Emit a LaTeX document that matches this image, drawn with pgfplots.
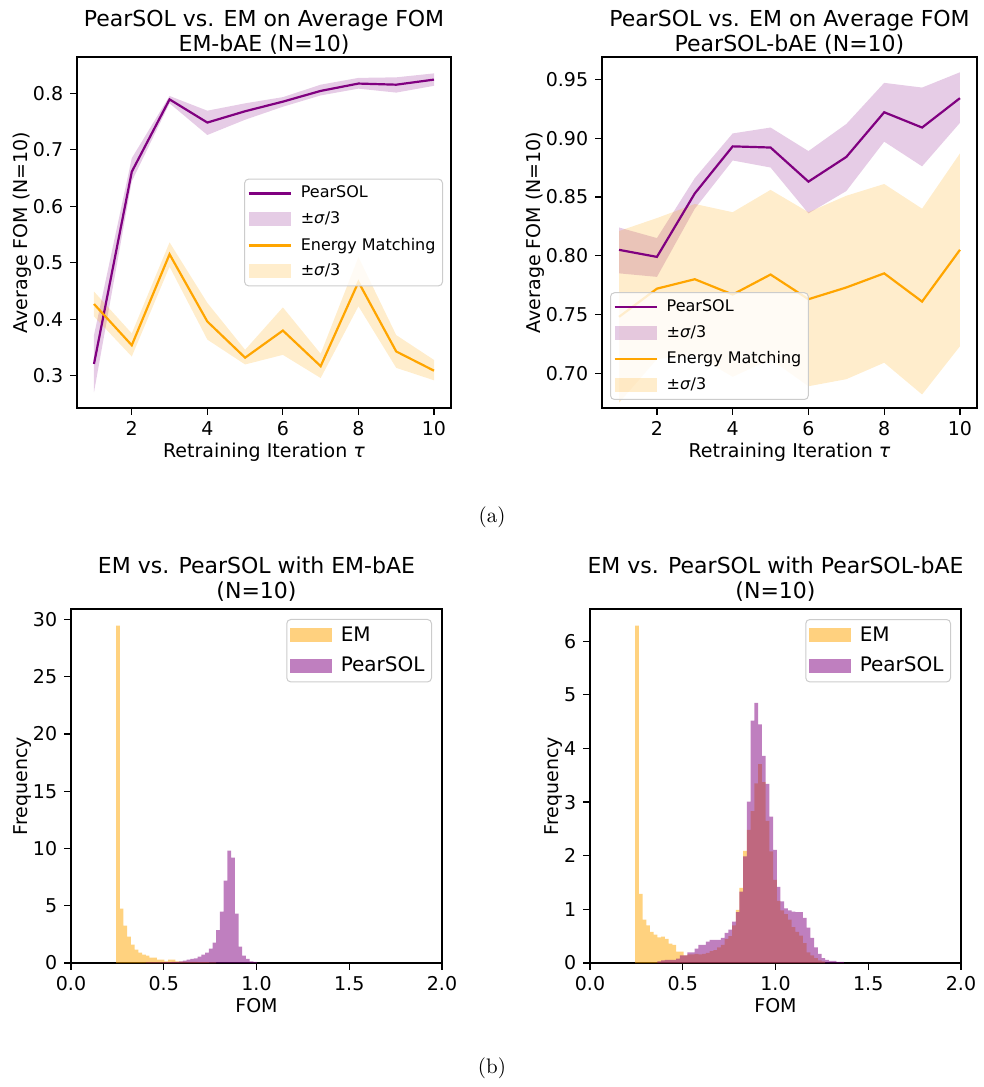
\documentclass[border=0pt]{standalone}
\usepackage{fontspec}
\usepackage{pgfplots}
\pgfplotsset{compat=1.18}
\newfontfamily\dejavu{DejaVu Sans}
\definecolor{mplpurple}{RGB}{128,0,128}
\definecolor{mplorange}{RGB}{255,165,0}
\definecolor{legedge}{RGB}{204,204,204}

\pgfplotsset{
  mplline/.style={legend image code/.code={\draw[##1, sharp corners] (0pt,0pt) -- (2.1em,0pt);}},
  mplpatch/.style={legend image code/.code={\fill[##1, draw=none, sharp corners] (0pt,-0.35em) rectangle (2.1em,0.35em);}},
  mplbase/.style={
    scale only axis,
    axis line style={line width=0.6pt},
    tick align=outside,
    tick pos=left,
    major tick length=3.4pt,
    every tick/.style={black, line width=0.6pt},
    /pgf/number format/assume math mode=true,
    tick label style={font=\dejavu\fontsize{9.5}{11}\selectfont},
    label style={font=\dejavu\fontsize{9.5}{11}\selectfont},
    xlabel style={yshift=3.5pt},
    ylabel style={yshift=-6pt},
    title style={font=\dejavu\fontsize{11}{12.5}\selectfont, align=center},
    legend cell align=left,
    legend style={draw=legedge, line width=0.5pt, rounded corners=2pt, fill=white,
      fill opacity=0.8, draw opacity=1, text opacity=1,
      row sep=0.15em, column sep=0.25em, inner xsep=1.5pt, inner ysep=1.5pt,
      nodes={inner sep=2pt}},
  },
  lineaxis/.style={mplbase, xmin=0.55, xmax=10.45, xtick={2,4,6,8,10},
    xlabel={Retraining Iteration \textit{τ}}, ylabel={Average FOM (N=10)},
    title style={yshift=-8pt},
    legend style={font=\dejavu\fontsize{8}{9.6}\selectfont}},
  histaxis/.style={mplbase, xmin=0, xmax=2, ymin=0, xtick={0,0.5,1,1.5,2},
    xticklabel style={/pgf/number format/.cd, fixed, fixed zerofill, precision=1},
    xlabel={FOM}, ylabel={Frequency},
    title style={yshift=-5.5pt},
    legend style={font=\dejavu\fontsize{10}{12}\selectfont, at={(1,1)}, anchor=north east,
      xshift=-5pt, yshift=-5pt, row sep=0.25em}},
}

\begin{document}
\begin{tikzpicture}
\path[use as bounding box] (0,0) rectangle (492pt,543.5pt);

% (a) left: EM-bAE
\begin{axis}[lineaxis, at={(38.5pt,339.5pt)}, anchor=south west,
  width=187pt, height=175.5pt, ymin=0.243, ymax=0.864,
  ytick={0.3,0.4,0.5,0.6,0.7,0.8},
  yticklabel style={/pgf/number format/.cd, fixed, fixed zerofill, precision=1},
  title={PearSOL vs. EM on Average FOM\\EM-bAE (N=10)},
  legend style={at={(1,0.5)}, anchor=east, xshift=-4pt}]
\addplot[fill=mplpurple, fill opacity=0.2, draw=none, forget plot] coordinates {
  (1,0.372) (2,0.685) (3,0.795) (4,0.769) (5,0.782) (6,0.793) (7,0.815) (8,0.827) (9,0.828) (10,0.835)
  (10,0.813) (9,0.801) (8,0.808) (7,0.796) (6,0.776) (5,0.753) (4,0.726) (3,0.782) (2,0.644) (1,0.271)
} -- cycle;
\addplot[fill=mplorange, fill opacity=0.2, draw=none, forget plot] coordinates {
  (1,0.449) (2,0.375) (3,0.536) (4,0.429) (5,0.346) (6,0.421) (7,0.339) (8,0.510) (9,0.372) (10,0.328)
  (10,0.292) (9,0.314) (8,0.423) (7,0.296) (6,0.337) (5,0.320) (4,0.364) (3,0.493) (2,0.334) (1,0.405)
} -- cycle;
\addplot[mplpurple, line width=1.1pt, mplline] coordinates {
  (1,0.321) (2,0.661) (3,0.789) (4,0.748) (5,0.768) (6,0.785) (7,0.804) (8,0.817) (9,0.815) (10,0.824)
};
\addlegendentry{PearSOL}
\addlegendimage{mplpatch, fill=mplpurple, fill opacity=0.2}
\addlegendentry{±\textit{σ}/3}
\addplot[mplorange, line width=1.1pt, mplline] coordinates {
  (1,0.427) (2,0.354) (3,0.515) (4,0.396) (5,0.332) (6,0.380) (7,0.317) (8,0.466) (9,0.343) (10,0.309)
};
\addlegendentry{Energy Matching}
\addlegendimage{mplpatch, fill=mplorange, fill opacity=0.2}
\addlegendentry{±\textit{σ}/3}
\end{axis}

% (a) right: PearSOL-bAE
\begin{axis}[lineaxis, at={(301pt,339.5pt)}, anchor=south west,
  width=187.5pt, height=175.5pt, ymin=0.6705, ymax=0.969,
  ytick={0.70,0.75,0.80,0.85,0.90,0.95},
  yticklabel style={/pgf/number format/.cd, fixed, fixed zerofill, precision=2},
  title={PearSOL vs. EM on Average FOM\\PearSOL-bAE (N=10)},
  legend style={at={(0,0)}, anchor=south west, xshift=4pt, yshift=4pt}]
\addplot[fill=mplpurple, fill opacity=0.2, draw=none, forget plot] coordinates {
  (1,0.824) (2,0.815) (3,0.866) (4,0.904) (5,0.909) (6,0.889) (7,0.912) (8,0.947) (9,0.943) (10,0.956)
  (10,0.913) (9,0.876) (8,0.897) (7,0.855) (6,0.836) (5,0.875) (4,0.881) (3,0.840) (2,0.782) (1,0.785)
} -- cycle;
\addplot[fill=mplorange, fill opacity=0.2, draw=none, forget plot] coordinates {
  (1,0.821) (2,0.832) (3,0.844) (4,0.837) (5,0.856) (6,0.837) (7,0.851) (8,0.861) (9,0.840) (10,0.887)
  (10,0.723) (9,0.682) (8,0.709) (7,0.695) (6,0.689) (5,0.712) (4,0.697) (3,0.716) (2,0.712) (1,0.675)
} -- cycle;
\addplot[mplpurple, line width=1.1pt, mplline] coordinates {
  (1,0.805) (2,0.799) (3,0.853) (4,0.893) (5,0.892) (6,0.863) (7,0.884) (8,0.922) (9,0.909) (10,0.934)
};
\addlegendentry{PearSOL}
\addlegendimage{mplpatch, fill=mplpurple, fill opacity=0.2}
\addlegendentry{±\textit{σ}/3}
\addplot[mplorange, line width=1.1pt, mplline] coordinates {
  (1,0.748) (2,0.772) (3,0.780) (4,0.767) (5,0.784) (6,0.763) (7,0.773) (8,0.785) (9,0.761) (10,0.805)
};
\addlegendentry{Energy Matching}
\addlegendimage{mplpatch, fill=mplorange, fill opacity=0.2}
\addlegendentry{±\textit{σ}/3}
\end{axis}

% (b) left: histogram with EM-bAE
\begin{axis}[histaxis, at={(35.5pt,62pt)}, anchor=south west,
  width=185.5pt, height=177pt, ymax=30.92, ytick={0,5,10,15,20,25,30},
  title={EM vs. PearSOL with EM-bAE\\(N=10)}]
\addplot[ybar interval, fill=mplorange, fill opacity=0.5, draw=none, mplpatch] coordinates {
  (0.243,29.47) (0.263,4.75) (0.283,3.27) (0.303,2.30) (0.323,1.60) (0.343,1.17) (0.363,0.90)
  (0.383,0.73) (0.403,0.64) (0.423,0.47) (0.443,0.47) (0.463,0.29) (0.483,0.29) (0.503,0.15)
  (0.523,0.29) (0.543,0.29) (0.563,0.15) (0.583,0.12) (0.603,0.12) (0.623,0.10) (0.643,0.10)
  (0.663,0.10) (0.683,0.08) (0.703,0.08) (0.723,0.08) (0.743,0.06) (0.763,0.06) (0.783,0)
};
\addlegendentry{EM}
\addplot[ybar interval, fill=mplpurple, fill opacity=0.5, draw=none, mplpatch] coordinates {
  (0.403,0.05) (0.423,0.05) (0.443,0.05) (0.463,0.06) (0.483,0.06) (0.503,0.08) (0.523,0.08)
  (0.543,0.10) (0.563,0.10) (0.583,0.15) (0.603,0.20) (0.623,0.29) (0.643,0.35) (0.663,0.40)
  (0.683,0.55) (0.703,0.73) (0.723,0.90) (0.743,1.25) (0.763,1.78) (0.783,2.88) (0.803,4.48)
  (0.823,7.19) (0.843,9.81) (0.863,9.20) (0.883,4.31) (0.903,1.43) (0.923,0.64) (0.943,0.35)
  (0.963,0.15) (0.983,0.09) (1.003,0)
};
\addlegendentry{PearSOL}
\end{axis}

% (b) right: histogram with PearSOL-bAE
\begin{axis}[histaxis, at={(295pt,62pt)}, anchor=south west,
  width=185.5pt, height=177pt, ymax=6.6, ytick={0,1,2,3,4,5,6},
  title={EM vs. PearSOL with PearSOL-bAE\\(N=10)}]
\addplot[ybar interval, fill=mplorange, fill opacity=0.5, draw=none, mplpatch] coordinates {
  (0.2430,6.29) (0.2631,1.29) (0.2832,0.81) (0.3033,0.70) (0.3234,0.58) (0.3435,0.53)
  (0.3636,0.48) (0.3837,0.49) (0.4038,0.45) (0.4239,0.36) (0.4440,0.34) (0.4641,0.21)
  (0.4842,0.21) (0.5043,0.14) (0.5244,0.16) (0.5445,0.16) (0.5646,0.17) (0.5847,0.16)
  (0.6048,0.17) (0.6249,0.19) (0.6450,0.22) (0.6651,0.24) (0.6852,0.29) (0.7053,0.34)
  (0.7254,0.45) (0.7455,0.50) (0.7656,0.70) (0.7857,0.99) (0.8058,1.40) (0.8259,2.09)
  (0.8460,2.48) (0.8661,2.83) (0.8862,3.35) (0.9063,3.71) (0.9264,3.37) (0.9465,2.65)
  (0.9666,2.08) (0.9867,1.55) (1.0068,1.16) (1.0269,0.98) (1.0470,0.91) (1.0671,0.81)
  (1.0872,0.67) (1.1073,0.58) (1.1274,0.51) (1.1475,0.37) (1.1676,0.20) (1.1877,0.14)
  (1.2078,0.09) (1.2279,0.05) (1.2480,0.03) (1.2681,0)
};
\addlegendentry{EM}
\addplot[ybar interval, fill=mplpurple, fill opacity=0.5, draw=none, mplpatch] coordinates {
  (0.3636,0.03) (0.3837,0.05) (0.4038,0.06) (0.4239,0.06) (0.4440,0.06) (0.4641,0.08)
  (0.4842,0.14) (0.5043,0.14) (0.5244,0.20) (0.5445,0.20) (0.5646,0.27) (0.5847,0.34)
  (0.6048,0.34) (0.6249,0.40) (0.6450,0.43) (0.6651,0.43) (0.6852,0.43) (0.7053,0.47)
  (0.7254,0.56) (0.7455,0.62) (0.7656,0.77) (0.7857,0.95) (0.8058,1.33) (0.8259,1.99)
  (0.8460,3.01) (0.8661,4.52) (0.8862,4.85) (0.9063,4.45) (0.9264,3.86) (0.9465,3.34)
  (0.9666,2.73) (0.9867,2.11) (1.0068,1.42) (1.0269,1.15) (1.0470,1.02) (1.0671,0.98)
  (1.0872,0.96) (1.1073,0.95) (1.1274,0.95) (1.1475,0.84) (1.1676,0.66) (1.1877,0.47)
  (1.2078,0.29) (1.2279,0.17) (1.2480,0.09) (1.2681,0.06) (1.2882,0.04) (1.3083,0.04)
  (1.3284,0.02) (1.3485,0.02) (1.3686,0)
};
\addlegendentry{PearSOL}
\end{axis}

\node[font=\fontsize{10.5}{12}\selectfont] at (246pt,285pt) {(a)};
\node[font=\fontsize{10.5}{12}\selectfont] at (246pt,9.5pt) {(b)};
\end{tikzpicture}
\end{document}
